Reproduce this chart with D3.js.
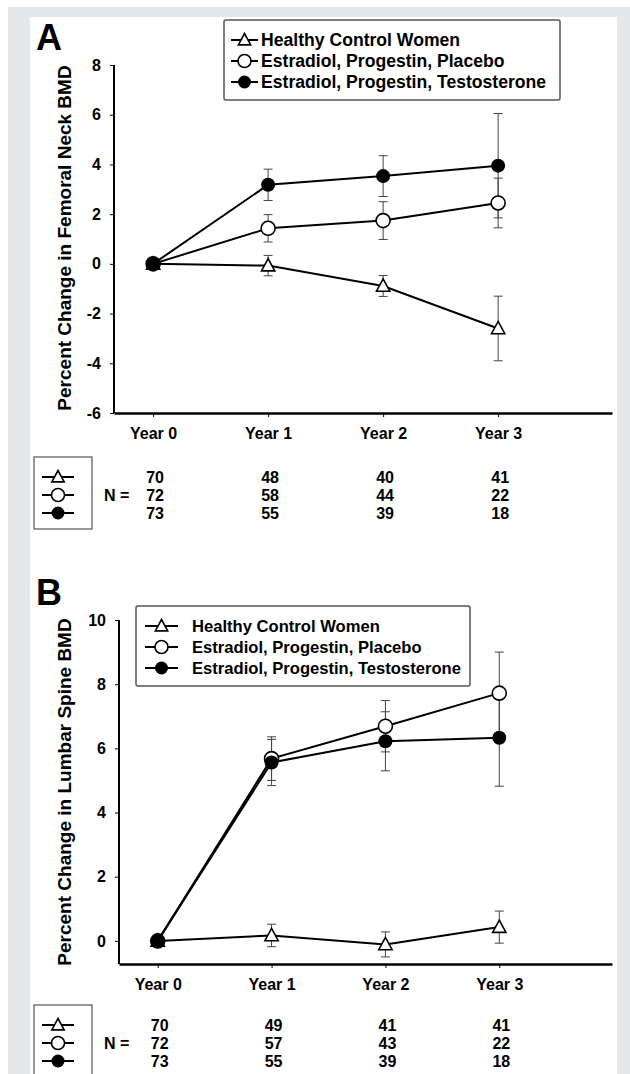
<!DOCTYPE html>
<html><head><meta charset="utf-8">
<script src="https://cdn.jsdelivr.net/npm/d3@7"></script>
<style>
html,body{margin:0;padding:0;background:#fff;}
svg{display:block;font-family:"Liberation Sans",Arial,sans-serif;font-weight:bold;}
</style></head>
<body>
<svg id="chart" width="630" height="1074"></svg>
<script>
// ---- data ----
const years = ["Year 0", "Year 1", "Year 2", "Year 3"];
const seriesNames = ["Healthy Control Women", "Estradiol, Progestin, Placebo", "Estradiol, Progestin, Testosterone"];
const seriesMarkers = ["triangle", "open", "filled"];

const femoralControl = [0, -0.07, -0.89, -2.6];
const femoralControlErr = [0, 0.41, 0.42, 1.3];
const femoralPlacebo = [0, 1.43, 1.74, 2.45];
const femoralPlaceboErr = [0, 0.55, 0.76, 1.0];
const femoralTesto = [0, 3.18, 3.53, 3.95];
const femoralTestoErr = [0, 0.63, 0.82, 2.1];

const lumbarControl = [0, 0.17, -0.11, 0.43];
const lumbarControlErr = [0, 0.35, 0.39, 0.5];
const lumbarPlacebo = [0, 5.68, 6.69, 7.72];
const lumbarPlaceboErr = [0, 0.68, 0.8, 1.28];
const lumbarTesto = [0, 5.56, 6.22, 6.33];
const lumbarTestoErr = [0, 0.72, 0.92, 1.51];

const nFemoral = [[70, 48, 40, 41], [72, 58, 44, 22], [73, 55, 39, 18]];
const nLumbar = [[70, 49, 41, 41], [72, 57, 43, 22], [73, 55, 39, 18]];

const yTicksA = [-6, -4, -2, 0, 2, 4, 6, 8];
const yTicksB = [0, 2, 4, 6, 8, 10];

// ---- drawing ----
const svg = d3.select("#chart");
svg.append("rect").attr("x", 8).attr("y", 7).attr("width", 622).attr("height", 1067).attr("fill", "#e6e7e8");
svg.append("rect").attr("x", 30).attr("y", 17).attr("width", 587).attr("height", 1057).attr("fill", "#fff");

function marker(g, type, cx, cy, r) {
  if (type === "triangle") {
    g.append("path")
      .attr("d", `M${cx},${cy - r}L${cx + r * 0.95},${cy + r * 0.75}L${cx - r * 0.95},${cy + r * 0.75}Z`)
      .attr("fill", "#fff").attr("stroke", "#000").attr("stroke-width", 1.6);
  } else if (type === "open") {
    g.append("circle").attr("cx", cx).attr("cy", cy).attr("r", r)
      .attr("fill", "#fff").attr("stroke", "#000").attr("stroke-width", 1.6);
  } else {
    g.append("circle").attr("cx", cx).attr("cy", cy).attr("r", r).attr("fill", "#000");
  }
}

function panel(cfg) {
  const g = svg.append("g");
  const x = d3.scaleLinear().domain([-0.34, 3.99]).range([cfg.left, 612]);
  const y = d3.scaleLinear().domain(cfg.yDomain).range([cfg.bottom, cfg.top]);

  // panel letter
  g.append("text").attr("x", 36).attr("y", cfg.letterY).attr("font-size", 36).text(cfg.letter);

  // y axis
  const ya = g.append("g").attr("transform", `translate(${cfg.left},0)`)
    .call(d3.axisLeft(y).tickValues(cfg.yTicks).tickFormat(d => String(d)).tickSize(4).tickSizeOuter(0).tickPadding(9));
  ya.select(".domain").attr("stroke-width", 2).attr("d", `M0,${y(cfg.yTicks[cfg.yTicks.length - 1])}V${cfg.bottom}`);
  ya.selectAll("text").attr("font-size", 16).attr("font-family", "Liberation Sans, Arial, sans-serif").attr("font-weight", "bold").attr("fill", "#000");
  ya.selectAll(".tick line").attr("stroke-width", 1);

  // x axis
  const xa = g.append("g").attr("transform", `translate(0,${cfg.bottom})`)
    .call(d3.axisBottom(x).tickValues([0, 1, 2, 3]).tickFormat(i => years[i]).tickSize(4).tickSizeOuter(0).tickPadding(11));
  xa.select(".domain").attr("stroke-width", 2.5);
  xa.selectAll("text").attr("font-size", 16).attr("font-family", "Liberation Sans, Arial, sans-serif").attr("font-weight", "bold").attr("fill", "#000");

  // y title
  g.append("text").attr("transform", `translate(64,${cfg.titleY}) rotate(-90)`)
    .attr("text-anchor", "middle").attr("dominant-baseline", "central")
    .attr("font-size", 19).text(cfg.title);

  // series lines
  const line = d3.line().x((d, i) => x(i)).y(d => y(d));
  const order = [0, 1, 2];
  order.forEach(s => {
    g.append("path").attr("d", line(cfg.values[s])).attr("fill", "none")
      .attr("stroke", "#000").attr("stroke-width", 2);
  });
  // error bars
  order.forEach(s => {
    cfg.values[s].forEach((v, i) => {
      const e = cfg.errs[s][i];
      if (!e) return;
      const eg = g.append("g").attr("stroke", "#444").attr("stroke-width", 1);
      eg.append("line").attr("x1", x(i)).attr("x2", x(i)).attr("y1", y(v - e)).attr("y2", y(v + e));
      eg.append("line").attr("x1", x(i) - 4.5).attr("x2", x(i) + 4.5).attr("y1", y(v - e)).attr("y2", y(v - e));
      eg.append("line").attr("x1", x(i) - 4.5).attr("x2", x(i) + 4.5).attr("y1", y(v + e)).attr("y2", y(v + e));
    });
  });
  // markers
  order.forEach(s => {
    cfg.values[s].forEach((v, i) => marker(g, seriesMarkers[s], x(i), y(v), 7));
  });

  // legend
  const L = cfg.legend;
  g.append("rect").attr("x", L.x).attr("y", L.y).attr("width", L.w).attr("height", 80).attr("rx", 2)
    .attr("fill", "#fff").attr("stroke", "#555").attr("stroke-width", 1.5);
  seriesNames.forEach((name, s) => {
    const cy = L.y + 20 + s * 21;
    g.append("line").attr("x1", L.lx1).attr("x2", L.lx2).attr("y1", cy).attr("y2", cy).attr("stroke", "#000").attr("stroke-width", 2);
    marker(g, seriesMarkers[s], (L.lx1 + L.lx2) / 2, cy, 6.5);
    g.append("text").attr("x", L.tx).attr("y", cy).attr("dominant-baseline", "central")
      .attr("font-size", L.fs).text(name);
  });

  // N table
  g.append("rect").attr("x", 34).attr("y", cfg.nTop).attr("width", 58).attr("height", 72)
    .attr("fill", "none").attr("stroke", "#555").attr("stroke-width", 1.2);
  cfg.nVals.forEach((row, s) => {
    const cy = cfg.nTop + 20 + s * 18;
    g.append("line").attr("x1", 42).attr("x2", 74).attr("y1", cy).attr("y2", cy).attr("stroke", "#000").attr("stroke-width", 2);
    marker(g, seriesMarkers[s], 58, cy, 6.5);
    row.forEach((n, i) => {
      g.append("text").attr("x", x(i) + 2).attr("y", cy).attr("text-anchor", "middle")
        .attr("dominant-baseline", "central").attr("font-size", 16).text(n);
    });
  });
  g.append("text").attr("x", 104).attr("y", cfg.nTop + 38).attr("dominant-baseline", "central")
    .attr("font-size", 16).text("N =");
}

panel({
  letter: "A", letterY: 50, left: 114, top: 65, bottom: 413, yDomain: [-6, 8], yTicks: yTicksA,
  title: "Percent Change in Femoral Neck BMD", titleY: 238,
  values: [femoralControl, femoralPlacebo, femoralTesto],
  errs: [femoralControlErr, femoralPlaceboErr, femoralTestoErr],
  legend: {x: 224, y: 20, w: 336, lx1: 231, lx2: 258, tx: 261, fs: 17.6},
  nTop: 457, nVals: nFemoral
});

panel({
  letter: "B", letterY: 605, left: 119, top: 620, bottom: 964, yDomain: [-0.72, 10], yTicks: yTicksB,
  title: "Percent Change in Lumbar Spine BMD", titleY: 792,
  values: [lumbarControl, lumbarPlacebo, lumbarTesto],
  errs: [lumbarControlErr, lumbarPlaceboErr, lumbarTestoErr],
  legend: {x: 136, y: 606, w: 334, lx1: 145, lx2: 178, tx: 192, fs: 16.6},
  nTop: 1005, nVals: nLumbar
});
</script>
</body></html>
